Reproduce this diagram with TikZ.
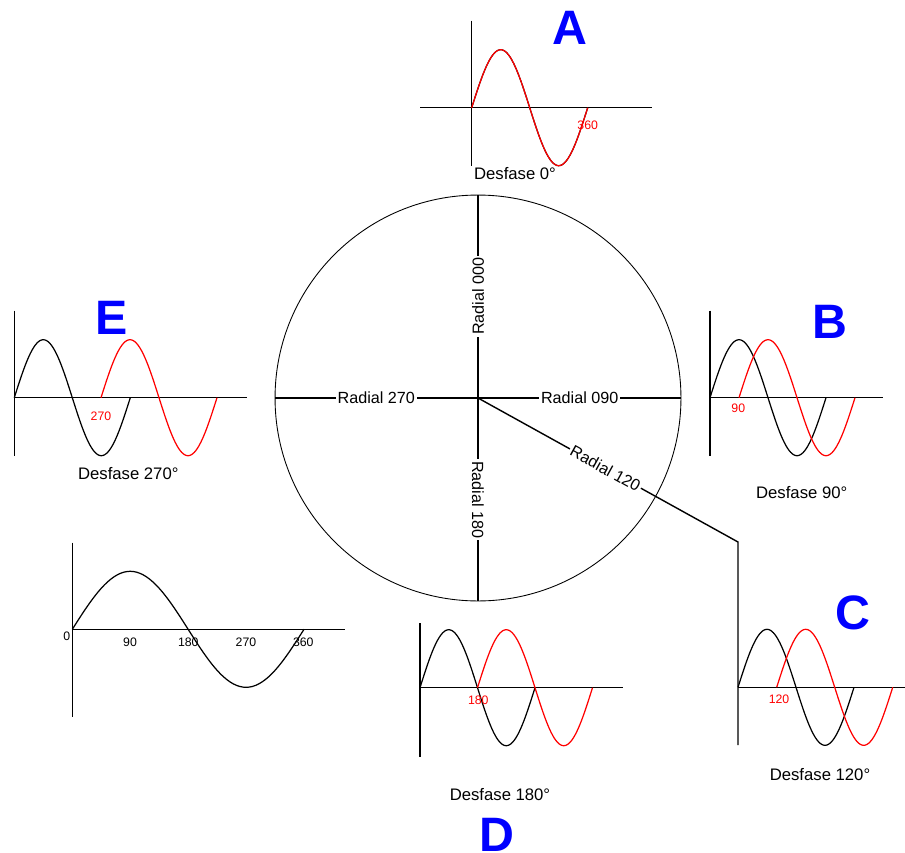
\documentclass[tikz,border=0pt]{standalone}
\usepackage{fontspec}
\setmainfont{Liberation Sans}
\usetikzlibrary{positioning}

% one period of a sine: style, start x, axis y, period
\newcommand{\wave}[4]{%
  \draw[#1] plot[domain=0:360, samples=73, smooth] ({#2+\x/360*#4}, {#3-58*sin(\x)});}

\begin{document}
\begin{tikzpicture}[
  x=0.02cm, y=-0.02cm, line width=0.6pt,
  axis/.style={line width=0.8pt},
  sig/.style={line width=0.7pt, black},
  lagged/.style={line width=0.7pt, red},
  tag/.style={font=\fontsize{27.5}{30}\selectfont\bfseries, text=blue, inner sep=0pt},
  caption/.style={font=\fontsize{9.5}{11}\selectfont, inner sep=0pt},
  radial/.style={font=\fontsize{9.2}{11}\selectfont, fill=white, inner sep=1pt},
  deg/.style={font=\fontsize{7}{8}\selectfont, inner sep=0pt},
]
\useasboundingbox (0,0) rectangle (905,852);

% dial
\node[draw, circle, minimum size=8.12cm, inner sep=0pt, line width=0.5pt] (dial) at (478,398) {};
\coordinate (bend) at (738,542);
\coordinate (cbase) at (738,745);
\draw (dial.center) -- node[radial, rotate=90] {Radial 000} (dial.north);
\draw (dial.center) -- node[radial] {Radial 090} (dial.east);
\draw (dial.center) -- node[radial, rotate=-90] {Radial 180} (dial.south);
\draw (dial.center) -- node[radial] {Radial 270} (dial.west);
\draw[axis] (dial.center) -- node[radial, rotate=-29, pos=0.49] {Radial 120} (bend) -- (cbase);

% A
\draw[axis] (471.7,20.7) -- (471.7,165.7);
\draw[axis] (420,107.7) -- (651.7,107.7);
\wave{sig}{471.7}{107.7}{116}
\wave{lagged}{471.7}{107.7}{116}
\node[deg, text=red] (a360) at (587.7,125) {360};
\node[caption] (capA) at (515,174) {Desfase 0°};
\node[tag] (tagA) at (570,28) {A};

% E
\draw[axis] (14.3,310.7) -- (14.3,455.7);
\draw[axis] (14.3,397.7) -- (246.7,397.7);
\wave{sig}{14.3}{397.7}{116}
\wave{lagged}{101}{397.7}{116}
\node[deg, text=red] (e270) at (101,416) {270};
\node[caption] (capE) at (128.3,474) {Desfase 270°};
\node[tag] (tagE) at (111.7,318.3) {E};

% B
\draw[axis] (710,310.7) -- (710,455.7);
\draw[axis] (710,397.7) -- (883.3,397.7);
\wave{sig}{710}{397.7}{116}
\wave{lagged}{739}{397.7}{116}
\node[deg, text=red] (b90) at (738.3,408.3) {90};
\node[caption] (capB) at (801.7,492.3) {Desfase 90°};
\node[tag] (tagB) at (830,321.7) {B};

% C
\draw[axis] (738,687.3) -- (905,687.3);
\wave{sig}{738}{687.3}{116}
\wave{lagged}{776.7}{687.3}{116}
\node[deg, text=red] (c120) at (779,699.3) {120};
\node[caption] (capC) at (820,775) {Desfase 120°};
\node[tag] (tagC) at (853,613) {C};

% D
\draw[axis] (420,623.3) -- (420,757.3);
\draw[axis] (420,687.7) -- (622.7,687.7);
\wave{sig}{420}{687.7}{115}
\wave{lagged}{477.5}{687.7}{115}
\node[deg, text=red] (d180) at (478.3,700) {180};
\node[caption] (capD) at (500,794.3) {Desfase 180°};
\node[tag] (tagD) at (496.7,835) {D};

% reference wave
\draw[axis] (72.3,542.7) -- (72.3,716.7);
\draw[axis] (72.3,629.3) -- (345,629.3);
\wave{sig}{72.3}{629.3}{231.7}
\node[deg] (r0) at (66.7,636) {0};
\node[deg] (r90) at (130,642.3) {90};
\node[deg] (r180) at (188.3,642.3) {180};
\node[deg] (r270) at (246,642.3) {270};
\node[deg] (r360) at (303.3,642.3) {360};
\end{tikzpicture}
\end{document}
